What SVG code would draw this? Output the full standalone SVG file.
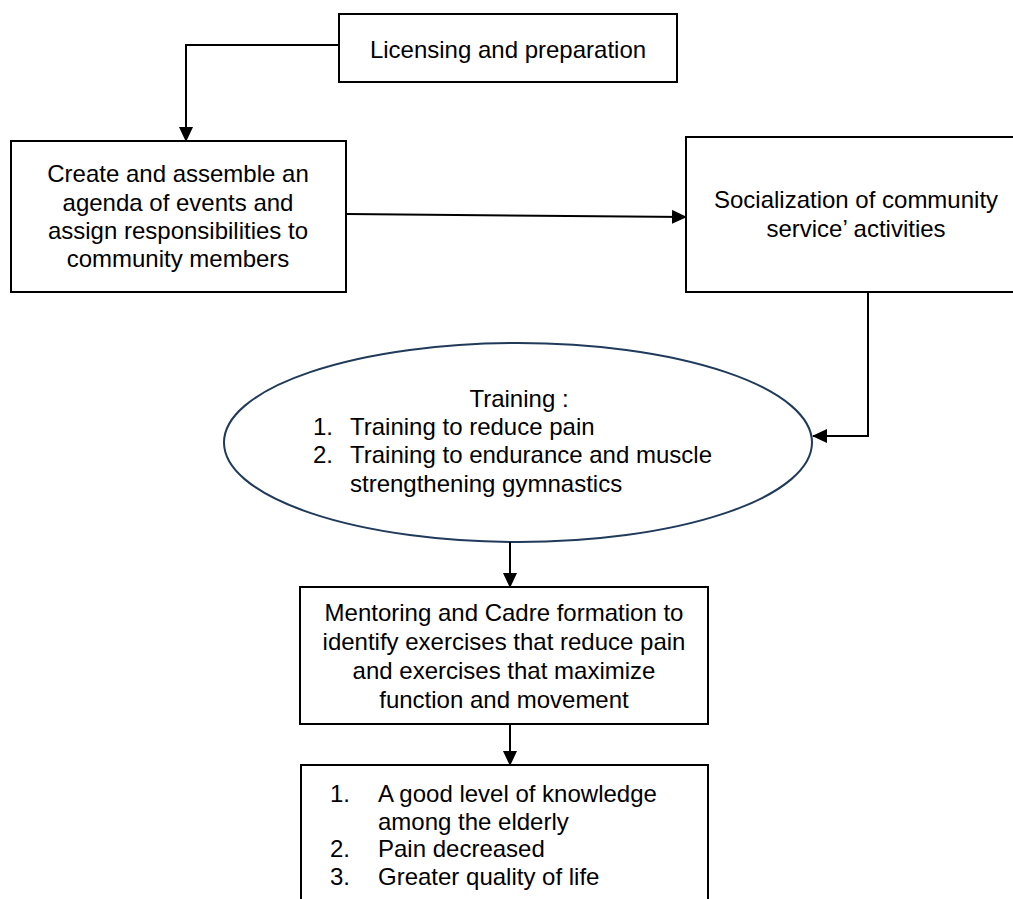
<svg xmlns="http://www.w3.org/2000/svg" width="1013" height="899" viewBox="0 0 1013 899">
<style>
text{font-family:"Liberation Sans",Arial,sans-serif;font-size:24px;fill:#000}
.c{text-anchor:middle}
.box{fill:#fff;stroke:#000;stroke-width:2}
.ell{fill:#fff;stroke:#1f3a5a;stroke-width:2}
.ln{fill:none;stroke:#000;stroke-width:2}
</style>
<defs>
<marker id="ah" markerWidth="15" markerHeight="14" refX="14" refY="7" orient="auto" markerUnits="userSpaceOnUse">
<path d="M0,0 L15,7 L0,14 Z" fill="#000"/>
</marker>
</defs>
<rect width="1013" height="899" fill="#fff"/>
<g id="licensing">
<rect class="box" x="339" y="14" width="338" height="68"/>
<text class="c" x="508" y="58">Licensing and preparation</text>
</g>
<g id="create">
<rect class="box" x="11" y="141" width="335" height="151"/>
<text class="c" x="178" y="182">Create and assemble an</text>
<text class="c" x="178" y="211">agenda of events and</text>
<text class="c" x="178" y="239">assign responsibilities to</text>
<text class="c" x="178" y="267">community members</text>
</g>
<g id="socialization">
<rect class="box" x="686" y="137" width="345" height="155"/>
<text class="c" x="856" y="208">Socialization of community</text>
<text class="c" x="856" y="237">service’ activities</text>
</g>
<g id="training">
<ellipse class="ell" cx="518" cy="442.5" rx="294" ry="99.5"/>
<text class="c" x="519" y="407">Training :</text>
<text x="313" y="435">1.</text>
<text x="350" y="435">Training to reduce pain</text>
<text x="313" y="463">2.</text>
<text x="350" y="463">Training to endurance and muscle</text>
<text x="350" y="492">strengthening gymnastics</text>
</g>
<g id="mentoring">
<rect class="box" x="300" y="587" width="408" height="137"/>
<text class="c" x="504" y="621">Mentoring and Cadre formation to</text>
<text class="c" x="504" y="650">identify exercises that reduce pain</text>
<text class="c" x="504" y="679">and exercises that maximize</text>
<text class="c" x="504" y="708">function and movement</text>
</g>
<g id="outcomes">
<rect class="box" x="301" y="765" width="407" height="150"/>
<text x="330" y="802">1.</text>
<text x="378" y="802">A good level of knowledge</text>
<text x="378" y="830">among the elderly</text>
<text x="330" y="857">2.</text>
<text x="378" y="857">Pain decreased</text>
<text x="330" y="885">3.</text>
<text x="378" y="885">Greater quality of life</text>
</g>
<g id="connectors">
<polyline class="ln" points="339,45 186,45 186,141" marker-end="url(#ah)"/>
<line class="ln" x1="347" y1="214" x2="686" y2="217" marker-end="url(#ah)"/>
<polyline class="ln" points="868,292 868,436 813,436" marker-end="url(#ah)"/>
<line class="ln" x1="510" y1="542" x2="510" y2="587" marker-end="url(#ah)"/>
<line class="ln" x1="510" y1="724" x2="510" y2="765" marker-end="url(#ah)"/>
</g>
</svg>
